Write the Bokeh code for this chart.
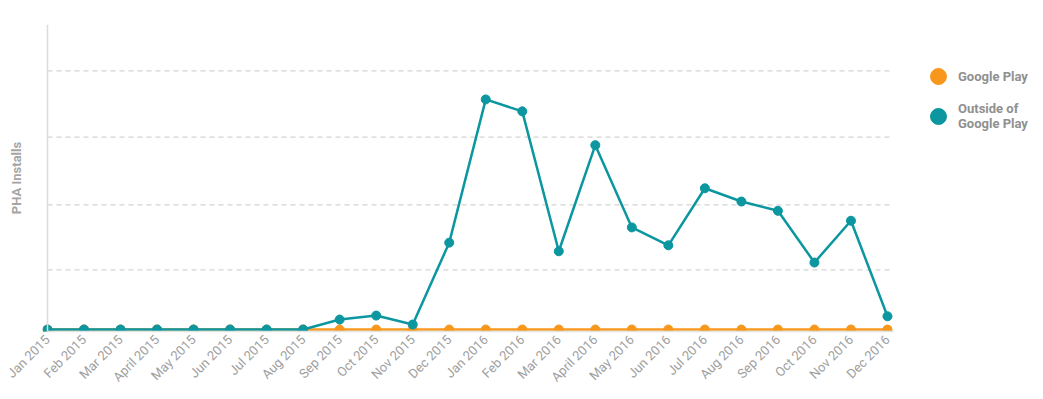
from math import pi
from bokeh.plotting import figure
from bokeh.models import FixedTicker, Range1d, Legend, LegendItem, LinearAxis
from bokeh.embed import file_html
from bokeh.resources import INLINE

months = ["Jan 2015", "Feb 2015", "Mar 2015", "April 2015", "May 2015", "Jun 2015",
          "Jul 2015", "Aug 2015", "Sep 2015", "Oct 2015", "Nov 2015", "Dec 2015",
          "Jan 2016", "Feb 2016", "Mar 2016", "April 2016", "May 2016", "Jun 2016",
          "Jul 2016", "Aug 2016", "Sep 2016", "Oct 2016", "Nov 2016", "Dec 2016"]
google_play = [0] * 24
outside_gp = [0, 0, 0, 0, 0, 0, 0, 0, 0.15, 0.21, 0.075, 1.31,
              3.47, 3.29, 1.18, 2.78, 1.54, 1.27, 2.13, 1.93, 1.79, 1.01, 1.64, 0.2]
grid_ticks = [0.9, 1.88, 2.9, 3.9]

TEAL = "#0b96a0"
ORANGE = "#f7981d"
FONT = "Roboto"
NAN = float("nan")

x = list(range(len(months)))
X_START = -0.137   # a few pixels of room so the first dot is not clipped
X_END = 23.16      # end of the plotting area proper (gridlines / axis line)
X_TOTAL = 27.19    # extra room on the right for the legend

p = figure(width=1043, height=399, output_backend="svg", toolbar_location=None,
           x_range=Range1d(X_START, X_TOTAL), y_range=Range1d(-0.03, 4.6),
           min_border_left=42, min_border_top=24, min_border_bottom=68, min_border_right=3)
p.outline_line_color = None

# dashed horizontal gridlines limited to the plotting area
p.segment(x0=[0] * len(grid_ticks), x1=[X_END] * len(grid_ticks), y0=grid_ticks, y1=grid_ticks,
          line_color="#d4d4d4", line_dash="5 4", line_width=1.2)

p.line(x, google_play, color=ORANGE, line_width=2.5)
p.scatter(x, google_play, size=9, color=ORANGE)
p.line(x, outside_gp, color=TEAL, line_width=2.5)
p.scatter(x, outside_gp, size=9, color=TEAL)

# legend proxies (not drawn in plot)
l1 = p.scatter([NAN], [NAN], size=16, color=ORANGE)
l2 = p.scatter([NAN], [NAN], size=16, color=TEAL)
legend = Legend(items=[LegendItem(label="Google Play", renderers=[l1]),
                       LegendItem(label="Outside of\nGoogle Play", renderers=[l2])],
                location=(876, 195), margin=0, padding=0, spacing=-2,
                glyph_width=40, glyph_height=40, label_standoff=0,
                label_text_font=FONT, label_text_font_size="13px",
                label_text_line_height=1.45,
                label_text_font_style="bold", label_text_color="#909090",
                border_line_alpha=0, background_fill_alpha=0)
p.add_layout(legend)

# axes
p.xaxis.ticker = FixedTicker(ticks=x)
p.xaxis.bounds = (0, X_END)
p.xaxis.major_label_overrides = {i: m for i, m in enumerate(months)}
p.xaxis.major_label_orientation = pi / 4
p.xaxis.major_label_text_font = FONT
p.xaxis.major_label_text_font_size = "13px"
p.xaxis.major_label_text_color = "#a0a0a0"
p.xaxis.major_tick_line_color = None
p.xaxis.major_tick_out = 0
p.xaxis.minor_tick_line_color = None
p.xaxis.axis_line_color = "#e3e3e3"
p.xaxis.axis_line_width = 1.5
p.xaxis.major_label_standoff = 6

# y axis line sits at the first month
p.yaxis.fixed_location = 0
p.yaxis.ticker = FixedTicker(ticks=[])
p.yaxis.axis_line_color = "#dcdcdc"
p.yaxis.axis_line_width = 1.5
p.yaxis.major_tick_line_color = None
p.yaxis.major_tick_out = 0
p.yaxis.minor_tick_line_color = None
p.yaxis.major_label_text_font_size = "0px"

# separate axis carrying only the title (bounds centre it a little above the middle)
title_axis = LinearAxis(ticker=FixedTicker(ticks=[]), axis_label="PHA Installs",
                        bounds=(1.3, 4.0),
                        axis_label_text_font=FONT, axis_label_text_font_size="13px",
                        axis_label_text_font_style="bold", axis_label_text_color="#a5a5a5",
                        axis_label_standoff=19, axis_line_color=None,
                        major_tick_line_color=None, minor_tick_line_color=None,
                        major_tick_out=0, major_label_text_font_size="0px")
p.add_layout(title_axis, "left")

p.grid.grid_line_color = None

open("out.html", "w").write(file_html(p, INLINE))
